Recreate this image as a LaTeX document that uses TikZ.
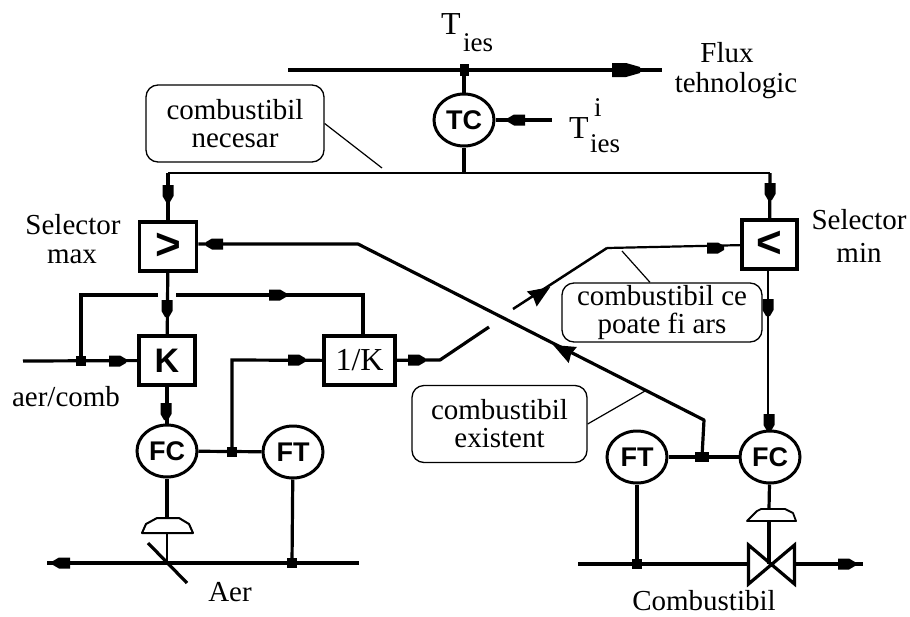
\documentclass[tikz,border=0pt]{standalone}
\usepackage{fontspec}
\setmainfont{Liberation Serif}
\newfontfamily\lsans{Liberation Sans}
\usetikzlibrary{shapes.geometric}
\newcommand{\txt}{\fontsize{29}{29}\selectfont}
\tikzset{
  x=1pt,y=-1pt,
  heavy/.style={line width=3.2pt},
  medium/.style={line width=2.2pt},
  thin leader/.style={line width=1.2pt},
  instr/.style={draw,ellipse,line width=3pt,minimum width=60pt,minimum height=52pt,inner sep=0pt,fill=white,
     font=\lsans\bfseries\fontsize{27}{27}\selectfont},
  blockbox/.style={draw,rectangle,line width=3.5pt,minimum height=49pt,inner sep=0pt,fill=white},
  callout/.style={draw,rectangle,rounded corners=12pt,line width=1.3pt,inner sep=0pt,align=center,font=\txt},
  label/.style={inner sep=0pt,align=center,font=\txt},
  dot/.style={fill,rectangle,minimum size=10pt,inner sep=0pt},
  flow/.pic={\fill (-8,-5.5)--(3,-5.5)--(9,-2)--(9,2)--(3,5.5)--(-8,5.5)--cycle;},
  bigflow/.pic={\fill (-11,-7)--(3,-7)--(17,-3)--(17,3)--(3,7)--(-11,7)--cycle;},
  slantflow/.pic={\fill (-9,0)--(-11,-9)--(11,0)--(-11,9)--cycle;}
}
\begin{document}
\begin{tikzpicture}
\useasboundingbox (0,0) rectangle (910,616);
% instruments and blocks
\node[instr] (tc) at (464,120) {TC};
\node[instr] (fcl) at (167,451) {FC};
\node[instr] (ftl) at (293,452) {FT};
\node[instr] (fcr) at (770,457) {FC};
\node[instr] (ftr) at (637,457) {FT};
\node[blockbox,minimum width=57pt] (maxsel) at (168,246.5) {\lsans\bfseries\fontsize{44}{44}\selectfont >};
\node[blockbox,minimum width=55pt] (minsel) at (769.5,244.5) {\lsans\bfseries\fontsize{44}{44}\selectfont <};
\node[blockbox,minimum width=56pt] (kbox) at (167,360.5) {\lsans\bfseries\fontsize{34}{34}\selectfont K};
\node[blockbox,minimum width=71pt] (invk) at (359.5,360.5) {\fontsize{32}{32}\selectfont 1/K};
% junctions and free ends
\node[dot,minimum width=9pt,minimum height=12pt] (jtop) at (464,70) {};
\node[dot] (jair) at (81,361) {};
\node[dot] (jl) at (232,452) {};
\node[dot] (jlo) at (292,563) {};
\node[dot,minimum width=14pt] (jr) at (702,457) {};
\node[dot] (jro) at (637,564) {};
\coordinate (pl) at (288,70);
\coordinate (pr) at (662,70);
\coordinate (tset) at (552,120);
\coordinate (busl) at (168,173);
\coordinate (busm) at (464,173);
\coordinate (busr) at (770,173);
\coordinate (gapl) at (158,295);
\coordinate (gapr) at (176,295);
\coordinate (lc) at (81,295);
\coordinate (rc) at (363,295);
\coordinate (airin) at (23,361);
% top
\draw[heavy] (pl) -- (pr);
\draw[heavy] (jtop) -- (tc);
\draw[heavy] (tc) -- (busm);
\draw[heavy] (tc) -- (tset);
\pic at (623,70) {bigflow};
\pic[rotate=180] at (517,120) {flow};
\draw[medium] (busl) -- (busr);
\draw[heavy] (busl) -- (maxsel);
\draw[heavy] (busr) -- (minsel);
\pic[rotate=-90] at (168,193) {flow};
\pic[rotate=-90] at (770,191) {flow};
% left control
\draw[heavy] (maxsel) -- (kbox);
\pic[rotate=-90] at (167,308) {flow};
\draw[heavy] (airin) -- (kbox);
\pic at (117,361) {flow};
\draw[heavy] (jair) -- (lc) -- (gapl);
\draw[heavy] (gapr) -- (rc) -- (invk.north -| rc);
\pic at (277,295) {flow};
\draw[heavy] (jl) -- (232,360) -- (invk);
\pic at (296,360) {flow};
\draw[heavy] (fcl) -- (ftl);
\draw[heavy] (kbox) -- (fcl);
\pic[rotate=-90] at (166,411) {flow};
% crossing lines
\coordinate (a1) at (440,360);
\coordinate (a2) at (489,327);
\coordinate (a3) at (513,309);
\coordinate (a4) at (607,248);
\draw[heavy,line join=round] (invk) -- (a1) -- (a2);
\draw[line width=2.5pt] (a3) -- (a4);
\draw[medium] (a4) -- (minsel);
\pic at (416,360) {flow};
\pic[rotate=33] at (541,293) {slantflow};
\pic at (715,248) {flow};
\coordinate (b1) at (358,244);
\coordinate (b2) at (704,420);
\draw[heavy,line join=round] (jr) -- (b2) -- (b1) -- (maxsel.east |- b1);
\pic[rotate=180] at (215,244) {flow};
\pic[rotate=153] at (563,350) {slantflow};
% right control
\draw[heavy] (ftr) -- (fcr);
\draw[medium] (minsel.south -| 768,0) -- (768,431);
\pic[rotate=-90] at (768,307) {flow};
\pic[rotate=-90] at (769,422) {flow};
% left plant
\coordinate (lo1) at (47,563);
\coordinate (lo2) at (359,563);
\draw[heavy] (lo1) -- (lo2);
\pic[rotate=180] at (62,563) {flow};
\draw[heavy] (ftl) -- (jlo);
\coordinate (actl) at (167,518);
\draw[heavy] (fcl) -- (actl);
\draw[medium] (actl) -- (167,563);
\draw[line width=2pt,fill=white,line join=round] (142,533) -- (146,524) -- (157,518) -- (179,518) -- (189,524) -- (193,533) -- cycle;
\draw[heavy] (148,543) -- (187,583);
% right plant
\coordinate (ro1) at (578,564);
\coordinate (ro2) at (863,564);
\draw[heavy] (ro1) -- (747,564);
\draw[heavy] (796,564) -- (ro2);
\pic at (846,564) {flow};
\draw[heavy] (ftr) -- (jro);
\coordinate (actr) at (769,509);
\draw[heavy] (fcr) -- (actr);
\draw[heavy] (769,521) -- (769,564);
\draw[line width=1.8pt,fill=white,line join=round] (747,521) -- (757,511) -- (761,509) -- (785,509) -- (793,513) -- (796,521) -- cycle;
\draw[heavy,line join=miter] (748.5,545) -- (748.5,584) -- (794.5,545) -- (794.5,584) -- cycle;
% callouts
\node[callout,minimum width=178pt,minimum height=77pt] (nec) at (235,123.5) {combustibil\\[-1pt]necesar};
\node[callout,minimum width=200pt,minimum height=59pt] (ce) at (662,312.5) {combustibil ce\\[-1pt]poate fi ars};
\node[callout,minimum width=175pt,minimum height=77pt] (ex) at (499.5,424) {combustibil\\[-1pt]existent};
\coordinate (l1) at (382,168);
\coordinate (l2a) at (622,251);
\coordinate (l3) at (645,391);
\draw[thin leader] (nec.east) -- (l1);
\draw[thin leader] (l2a) -- (ce.north -| 650,0);
\draw[thin leader] (ex.east) -- (l3);
% labels
\node[label,anchor=west,font=\fontsize{32}{32}\selectfont] (t1) at (441,24) {T};
\node[label,anchor=west,font=\fontsize{27}{27}\selectfont] (t1s) at (463,43) {ies};
\node[label,anchor=west,font=\fontsize{32}{32}\selectfont] (t2) at (569,128) {T};
\node[label,anchor=west,font=\fontsize{27}{27}\selectfont] (t2s) at (590,144) {ies};
\node[label,anchor=west,font=\fontsize{27}{27}\selectfont] (t2i) at (594,108) {i};
\node[label] (flux) at (727,53) {Flux};
\node[label] (teh) at (736,86) {tehnologic};
\node[label] (s1) at (73,225) {Selector};
\node[label] (s1b) at (72,257) {max};
\node[label] (s2) at (859,220) {Selector};
\node[label] (s2b) at (859,253) {min};
\node[label] (ac) at (66,397) {aer/comb};
\node[label] (aer) at (230,592) {Aer};
\node[label] (comb) at (704,601) {Combustibil};
\end{tikzpicture}
\end{document}
